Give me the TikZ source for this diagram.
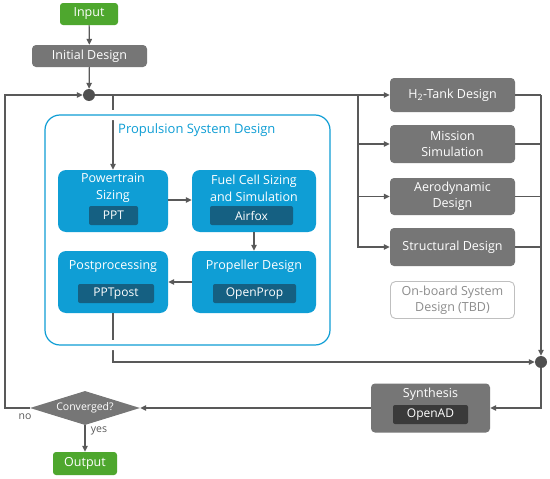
\documentclass[tikz,border=0pt]{standalone}
\usepackage{fontspec}
\setmainfont{Open Sans}
\usetikzlibrary{arrows.meta,shapes.geometric,calc}
\definecolor{ingreen}{RGB}{78,167,46}
\definecolor{boxgray}{RGB}{118,118,118}
\definecolor{dotgray}{RGB}{80,80,80}
\definecolor{linegray}{RGB}{89,89,89}
\definecolor{pblue}{RGB}{15,158,213}
\definecolor{tagblue}{RGB}{21,96,130}
\definecolor{tagdark}{RGB}{58,58,58}
\definecolor{tbdgray}{RGB}{191,191,191}
\definecolor{tbdtext}{RGB}{140,140,140}
\begin{document}
\begin{tikzpicture}[x=1pt,y=-1pt,
  base/.style={rectangle,inner sep=0pt,text=white,font=\fontsize{12.5}{16}\selectfont,align=center},
  greenbox/.style={base,fill=ingreen,rounded corners=3pt},
  graybox/.style={base,fill=boxgray,rounded corners=4pt},
  bluebox/.style={base,fill=pblue,rounded corners=8pt},
  tagbox/.style={base,fill=tagblue,rounded corners=2pt,minimum height=19pt,font=\fontsize{12}{14}\selectfont},
  darktag/.style={base,fill=tagdark,rounded corners=2pt,minimum height=19pt,font=\fontsize{12}{14}\selectfont},
  boxtitle/.style={inner sep=0pt,text=white,font=\fontsize{12.5}{17}\selectfont,align=center},
  dot/.style={circle,fill=dotgray,minimum size=12pt,inner sep=0pt},
  line/.style={draw=linegray,line width=1.2pt},
  conn/.style={line,-{Triangle[width=5.5pt,length=6pt]}},
  lbl/.style={inner sep=0pt,text=linegray,font=\fontsize{10.5}{12}\selectfont}
]
\useasboundingbox[fill=white] (0,0) rectangle (550,479);

% top
\node[greenbox,minimum width=58pt,minimum height=22pt] (input) at (89,14) {Input};
\node[graybox,minimum width=115pt,minimum height=22pt] (init) at (89.5,56) {Initial Design};
\node[dot] (j1) at (89,95) {};

% right column
\node[graybox,minimum width=125pt,minimum height=34pt] (h2) at (452.5,95) {H\textsubscript{2}-Tank Design};
\node[graybox,minimum width=125pt,minimum height=38pt] (mission) at (452.5,144) {Mission\\Simulation};
\node[graybox,minimum width=125pt,minimum height=37pt] (aero) at (452.5,196.5) {Aerodynamic\\Design};
\node[graybox,minimum width=125pt,minimum height=38pt] (struct) at (452.5,247) {Structural Design};
\node[base,draw=tbdgray,line width=0.9pt,text=tbdtext,rounded corners=5pt,minimum width=124pt,minimum height=37pt] (tbd) at (452.5,300) {On-board System\\Design (TBD)};

% propulsion blocks
\node[bluebox,minimum width=110pt,minimum height=62pt] (pts) at (113,201) {};
\node[boxtitle] (ptst) at (113,188) {Powertrain\\Sizing};
\node[tagbox,minimum width=49pt] (ppt) at (113.5,215.5) {PPT};

\node[bluebox,minimum width=124pt,minimum height=62pt] (fc) at (254,201) {};
\node[boxtitle] (fct) at (254,188) {Fuel Cell Sizing\\and Simulation};
\node[tagbox,minimum width=83pt] (airfox) at (251.5,215.5) {Airfox};

\node[bluebox,minimum width=124pt,minimum height=62pt] (prop) at (254,282) {};
\node[boxtitle] (propt) at (254,266) {Propeller Design};
\node[tagbox,minimum width=83pt] (openprop) at (254.5,293.5) {OpenProp};

\node[bluebox,minimum width=110pt,minimum height=62pt] (post) at (113,282) {};
\node[boxtitle] (postt) at (113,266) {Postprocessing};
\node[tagbox,minimum width=76pt] (pptpost) at (116,293.5) {PPTpost};

% junction 2, synthesis, decision
\node[dot] (j2) at (541,362) {};
\node[graybox,minimum width=119pt,minimum height=49pt] (synth) at (430.5,408) {};
\node[boxtitle] (syntht) at (430.5,394) {Synthesis};
\node[darktag,minimum width=75pt] (openad) at (430.5,414.5) {OpenAD};
\node[diamond,fill=boxgray,text=white,inner sep=0pt,minimum width=110pt,minimum height=34pt,aspect=3.2,font=\fontsize{10.5}{12}\selectfont] (conv) at (85,408) {Converged?};
\node[greenbox,minimum width=64pt,minimum height=23pt] (output) at (85,463.5) {Output};

% coordinates
\coordinate (lc) at (5,408);
\coordinate (pt) at (113,95);
\coordinate (sp) at (358,95);
\coordinate (rc) at (541,95);

% connectors
\draw[conn] (input) -- (init);
\draw[conn] (init) -- (j1);
\draw[conn] (conv.west) -- (lc) |- (j1);
\draw[conn] (j1) -- (h2);
\draw[conn] (sp) |- (mission.west);
\draw[conn] (sp) |- (aero.west);
\draw[conn] (sp) |- (struct.west);
\draw[conn] (pt) -- (pts.north);
\draw[line] (h2.east) -- (rc);
\draw[line] (mission.east) -- (mission.east -| rc);
\draw[line] (aero.east) -- (aero.east -| rc);
\draw[line] (struct.east) -- (struct.east -| rc);
\draw[conn] (rc) -- (j2);
\draw[conn] (j2) |- (synth.east);
\draw[conn] (post.south) |- (j2);
\draw[conn] (synth.west) -- (conv.east);
\draw[conn] (conv.south) -- (output.north);
\draw[conn] (pts.east |- 0,200) -- (fc.west |- 0,200);
\draw[conn] (fc.south -| 254,0) -- (prop.north);
\draw[conn] (prop.west |- 0,282) -- (post.east |- 0,282);

% propulsion frame
\node[draw=pblue,line width=1.2pt,rounded corners=15pt,minimum width=285pt,minimum height=230pt,inner sep=0pt,preaction={draw=white,line width=10pt}] (psd) at (187.5,230) {};
\node[inner sep=0pt,anchor=west,text=pblue,font=\fontsize{13}{15}\selectfont] (psdt) at (118,130) {Propulsion System Design};

% labels
\node[lbl] (no) at (25,417) {no};
\node[lbl] (yes) at (99,431) {yes};
\end{tikzpicture}
\end{document}
